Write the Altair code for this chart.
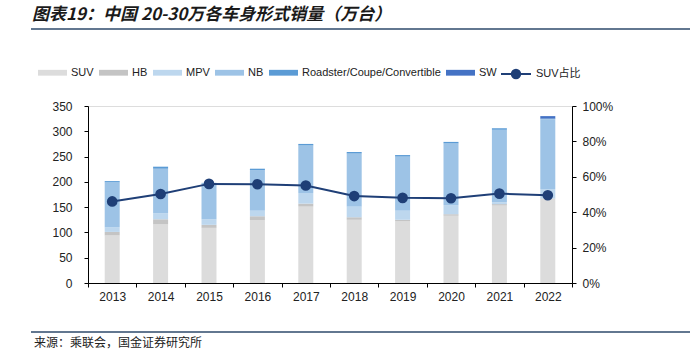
import altair as alt
import pandas as pd

years = ["2013", "2014", "2015", "2016", "2017", "2018", "2019", "2020", "2021", "2022"]
suv = [94, 116, 109, 124, 151, 125, 122, 133, 153, 166]
hb = [7, 10, 6, 8, 6, 5, 3, 3, 3, 1]
mpv = [9, 12, 11, 11, 21, 21, 18, 18, 4, 19]
nb = [89, 88, 71, 80, 94, 105, 107, 122, 143, 138]
roadster = [2.5, 4, 1, 3, 3, 3, 3, 3, 3, 1]
sw = [0, 0, 0, 0, 0, 0, 0, 0, 0, 5]
suv_share = [0.461, 0.503, 0.560, 0.558, 0.551, 0.491, 0.481, 0.479, 0.505, 0.496]

cats = ["SUV", "HB", "MPV", "NB", "Roadster/Coupe/Convertible", "SW"]
colors = ["#DCDCDC", "#C4C4C4", "#BDD7EE", "#9DC3E6", "#5B9BD5", "#4472C4"]
series = [suv, hb, mpv, nb, roadster, sw]

rows = []
for ci, (c, vals) in enumerate(zip(cats, series)):
    for y, v in zip(years, vals):
        rows.append({"year": y, "cat": c, "value": v, "ord": ci})
bar_df = pd.DataFrame(rows)
line_df = pd.DataFrame({"year": years, "share": suv_share, "s": ["SUV占比"] * len(years)})

FONT = "Liberation Sans, Noto Sans CJK SC"
NAVY = "#1F3F77"

x_enc = alt.X("year:N", sort=years,
              scale=alt.Scale(paddingInner=0, paddingOuter=0),
              axis=alt.Axis(title=None, labelAngle=0, domainColor="#000", tickColor="#000",
                            tickSize=4, labelFontSize=12, labelColor="#222", labelPadding=4,
                            tickBand="extent"))

bars = alt.Chart(bar_df).mark_bar(size=15).encode(
    x=x_enc,
    y=alt.Y("value:Q", stack="zero",
            scale=alt.Scale(domain=[0, 350]),
            axis=alt.Axis(title=None, values=list(range(0, 351, 50)), grid=False,
                          domainColor="#000", tickColor="#000", tickSize=4,
                          labelFontSize=12, labelColor="#222", labelPadding=12)),
    color=alt.Color("cat:N", scale=alt.Scale(domain=cats, range=colors),
                    legend=alt.Legend(title=None, orient="none", direction="horizontal",
                                      legendX=-50, legendY=-48, columns=6,
                                      symbolType="M-1,-0.2H1V0.2H-1Z", symbolSize=841,
                                      symbolStrokeWidth=0, labelOffset=4, columnPadding=5,
                                      labelFontSize=11, labelColor="#222", labelFont=FONT)),
    order=alt.Order("ord:Q", sort="ascending"),
)

line = alt.Chart(line_df).mark_line(strokeWidth=2, point=alt.OverlayMarkDef(size=75, filled=True, color=NAVY)).encode(
    x=alt.X("year:N", sort=years),
    y=alt.Y("share:Q", scale=alt.Scale(domain=[0, 1]),
            axis=alt.Axis(title=None, orient="right", format=".0%", values=[0, 0.2, 0.4, 0.6, 0.8, 1.0],
                          grid=False, domainColor="#000", tickColor="#000", tickSize=4,
                          labelFontSize=12, labelColor="#222", labelPadding=6)),
    stroke=alt.Stroke("s:N", scale=alt.Scale(domain=["SUV占比"], range=[NAVY]),
                      legend=alt.Legend(title=None, orient="none", legendX=412, legendY=-48,
                                        symbolType="M-1,0H1M0.28,0A0.28,0.28,0,1,1,-0.28,0A0.28,0.28,0,1,1,0.28,0Z",
                                        symbolSize=900, symbolStrokeWidth=2, symbolFillColor=NAVY,
                                        labelOffset=4, labelFontSize=11, labelColor="#222",
                                        labelFont=FONT)),
)

one = alt.Data(values=[{"t": "图表19：中国 20-30万各车身形式销量（万台）"}])
title = alt.Chart(one).mark_text(align="left", baseline="middle", font="Noto Sans CJK SC",
                                 fontSize=17, fontWeight="bold", fontStyle="italic", color="#1a1a1a").encode(
    x=alt.value(-56), y=alt.value(-91), text="t:N")

src = alt.Data(values=[{"t": "来源：乘联会，国金证券研究所"}])
source = alt.Chart(src).mark_text(align="left", baseline="middle", font="Noto Sans CJK SC",
                                  fontSize=12, color="#222").encode(
    x=alt.value(-54), y=alt.value(237), text="t:N")

r1 = alt.Chart(alt.Data(values=[{"a": 1}])).mark_rule(color="#2E4A6B", strokeWidth=1.5).encode(
    x=alt.value(-57), x2=alt.value(602), y=alt.value(-77))
r2 = alt.Chart(alt.Data(values=[{"a": 1}])).mark_rule(color="#2E4A6B", strokeWidth=1.5).encode(
    x=alt.value(-57), x2=alt.value(602), y=alt.value(226))

chart = alt.layer(bars, line, title, source, r1, r2).resolve_scale(
    y="independent"
).properties(
    width=484, height=177,
    autosize=alt.AutoSizeParams(type="none"),
    padding={"left": 88, "top": 106, "right": 125, "bottom": 73},
).configure_view(stroke=None).configure_axis(labelFont=FONT).configure(background="white")

chart.save("out.html", embed_options={"renderer": "svg", "actions": False})
